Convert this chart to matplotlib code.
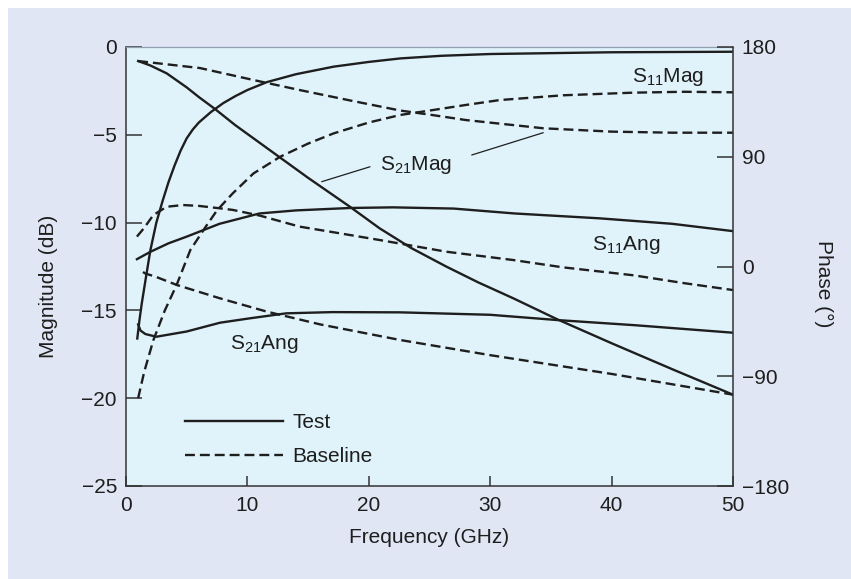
import numpy as np
import matplotlib
matplotlib.use("Agg")
import matplotlib.pyplot as plt
from matplotlib.patches import Rectangle

plt.rcParams['font.family'] = ['Liberation Sans', 'DejaVu Sans']
plt.rcParams['mathtext.default'] = 'regular'

# magnitude curves (dB, left axis)
s11mag_test_f = [0.93, 1.1, 1.3, 1.6, 2.0, 2.5, 3.0, 3.5, 4.0, 4.5, 5.0, 5.5, 6.0, 7.0, 8.0, 9.0, 10.0, 11.6, 14, 17.1, 20, 22.6, 26, 30, 40, 50]
s11mag_test = [-16.6, -15.6, -14.6, -13.3, -11.6, -10.0, -8.8, -7.7, -6.75, -5.9, -5.2, -4.7, -4.3, -3.7, -3.2, -2.8, -2.45, -2.0, -1.55, -1.12, -0.85, -0.65, -0.5, -0.4, -0.3, -0.27]

s21mag_test_f = [1.0, 2, 3.35, 5, 6, 7.33, 9, 11, 13, 15, 18.45, 20.9, 23.5, 26.4, 29, 31.9, 35.5, 40, 45, 50]
s21mag_test = [-0.8, -1.05, -1.5, -2.3, -2.85, -3.53, -4.45, -5.45, -6.45, -7.45, -9.1, -10.33, -11.45, -12.51, -13.4, -14.31, -15.5, -16.87, -18.35, -19.8]

s11mag_base_f = [1.0, 1.5, 2.25, 3.2, 4.17, 5.3, 6.6, 7.5, 8.8, 10.5, 12.7, 15, 17.1, 20, 22.6, 25, 28, 30.8, 36, 41.8, 46, 50]
s11mag_base = [-20.0, -18.5, -16.7, -15.0, -13.55, -11.56, -10.2, -9.3, -8.33, -7.2, -6.25, -5.5, -4.92, -4.3, -3.87, -3.62, -3.3, -3.02, -2.75, -2.6, -2.55, -2.58]

s21mag_base_f = [1.0, 6.1, 10.5, 14.3, 18.5, 22.6, 25, 28, 34.4, 40, 45, 50]
s21mag_base = [-0.8, -1.2, -1.88, -2.45, -3.05, -3.62, -3.85, -4.16, -4.63, -4.82, -4.88, -4.88]

# phase curves (deg, right axis)
s11ang_test_f = [0.9, 2, 3.5, 5, 7.7, 11, 14, 18.5, 22, 27, 32, 39, 45, 50]
s11ang_test = [6, 12, 19, 24.5, 35, 43.5, 46, 48, 48.5, 47.5, 43.5, 39.5, 35, 29]

s21ang_test_f = [1.0, 1.2, 1.6, 2.5, 5.0, 7.74, 10.2, 13.2, 17, 22.6, 30, 35.5, 42, 50]
s21ang_test = [-47.5, -52.6, -55.4, -57.6, -53.3, -46.1, -42.5, -38.4, -37.4, -37.6, -39.6, -43.9, -48.2, -54.3]

s11ang_base_f = [0.9, 1.5, 2.25, 3.35, 4.7, 6, 7.74, 8.8, 11, 14.3, 17.5, 20.9, 26.4, 31.9, 36, 41.8, 46, 50]
s11ang_base = [24.5, 31.7, 42.2, 49, 50.4, 49.7, 47.7, 46.4, 41.8, 32.7, 27.4, 21.7, 12.1, 5.3, -0.7, -7.2, -13.7, -19.3]

s21ang_base_f = [1.4, 1.56, 2.5, 4.17, 7.74, 11.6, 16, 22.6, 30, 40, 50]
s21ang_base = [-4.5, -5.6, -8.6, -15.1, -26.1, -37.0, -47.5, -60.3, -72.7, -88.1, -105.1]

mag_ticks = [0, -5, -10, -15, -20, -25]
phase_ticks = [180, 90, 0, -90, -180]
freq_ticks = [0, 10, 20, 30, 40, 50]

ink = '#1e1e1e'
lw = 1.7
dash = (0, (4.2, 2.1))

fig = plt.figure(figsize=(8.51, 5.79), dpi=100)
fig.patches.append(Rectangle((8 / 851, 0), 1 - 8 / 851, 1 - 8 / 579, transform=fig.transFigure,
                             facecolor='#e0e6f4', edgecolor='none', zorder=-10))
ax = fig.add_axes([126 / 851, 1 - 486 / 579, 607 / 851, 439 / 579])
ax.set_facecolor('#e0f3fa')
ax2 = ax.twinx()

l_test, = ax.plot(s11mag_test_f, s11mag_test, color=ink, lw=lw)
ax.plot(s21mag_test_f, s21mag_test, color=ink, lw=lw)
l_base, = ax.plot(s11mag_base_f, s11mag_base, color=ink, lw=lw, ls=dash)
ax.plot(s21mag_base_f, s21mag_base, color=ink, lw=lw, ls=dash)

ax2.plot(s11ang_test_f, s11ang_test, color=ink, lw=lw)
ax2.plot(s21ang_test_f, s21ang_test, color=ink, lw=lw)
ax2.plot(s11ang_base_f, s11ang_base, color=ink, lw=lw, ls=dash)
ax2.plot(s21ang_base_f, s21ang_base, color=ink, lw=lw, ls=dash)

ax.set_xlim(0, 50)
ax.set_ylim(-25, 0)
ax2.set_ylim(-180, 180)
ax.set_xticks(freq_ticks)
ax.set_yticks(mag_ticks)
ax2.set_yticks(phase_ticks)

for a in (ax, ax2):
    for s in a.spines.values():
        s.set_visible(False)
ax.spines['left'].set_visible(True)
ax.spines['bottom'].set_visible(True)
ax.spines['top'].set_visible(True)
ax2.spines['right'].set_visible(True)
for s in (ax.spines['left'], ax.spines['bottom'], ax2.spines['right']):
    s.set_color('#333333')
    s.set_linewidth(1.1)
ax.spines['top'].set_color('#8f9fb0')
ax.spines['top'].set_linewidth(0.9)

ax.tick_params(axis='y', direction='in', length=11.5, width=1.1, color='#333333',
               labelsize=15, labelcolor=ink, pad=6.5)
ax.tick_params(axis='x', direction='in', length=7.2, width=1.1, color='#333333',
               labelsize=15, labelcolor=ink, pad=7.5)
ax2.tick_params(axis='y', direction='in', length=11.5, width=1.1, color='#333333',
                labelsize=15, labelcolor=ink, pad=6.3)

ax.set_xlabel('Frequency (GHz)', fontsize=15, color=ink)
ax.xaxis.set_label_coords(0.5, -0.095)
fig.text(48 / 851, 1 - 286 / 579, 'Magnitude (dB)', rotation=90, ha='center', va='center',
         fontsize=15, color=ink)
fig.text(824 / 851, 1 - 284 / 579, 'Phase (°)', rotation=270, ha='center', va='center',
         fontsize=15, color=ink)

# curve labels
ax.text(41.65, -2.01, 'S$_{11}$Mag', fontsize=15, color=ink, va='baseline')
ax.text(20.92, -7.0, 'S$_{21}$Mag', fontsize=15, color=ink, va='baseline')
ax.text(38.36, -11.56, 'S$_{11}$Ang', fontsize=15, color=ink, va='baseline')
ax.text(8.57, -17.2, 'S$_{21}$Ang', fontsize=15, color=ink, va='baseline')
ax.annotate('', xy=(16.12, -7.67), xytext=(20.1, -6.82),
            arrowprops=dict(arrowstyle='-', color=ink, lw=0.9, shrinkA=0, shrinkB=0))
ax.annotate('', xy=(34.37, -4.88), xytext=(28.48, -6.15),
            arrowprops=dict(arrowstyle='-', color=ink, lw=0.9, shrinkA=0, shrinkB=0))

ax2.legend([l_test, l_base], ['Test', 'Baseline'], loc='upper left',
           bbox_to_anchor=(0.097, 0.1666), frameon=False, fontsize=15,
           handlelength=4.7, handletextpad=0.45, labelspacing=0.74,
           borderpad=0, borderaxespad=0, labelcolor=ink)

fig.savefig('out.png', dpi=100, facecolor='white')
